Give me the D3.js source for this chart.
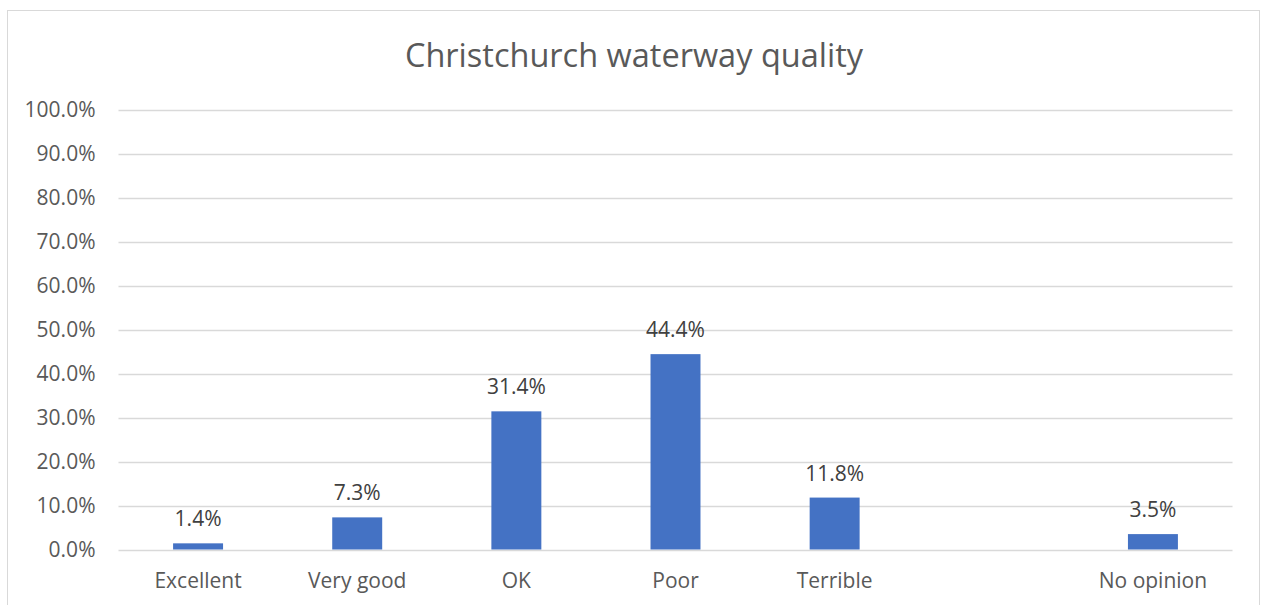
<!DOCTYPE html>
<html lang="en">
<head>
<meta charset="utf-8">
<title>Christchurch waterway quality</title>
<script src="https://cdn.jsdelivr.net/npm/d3@7"></script>
<style>
  body { margin: 0; background: #fff; }
  text { font-family: "Open Sans", sans-serif; }
</style>
</head>
<body>
<div id="chart"></div>
<script>
var categories = ["Excellent", "Very good", "OK", "Poor", "Terrible", "", "No opinion"];
var values = [1.4, 7.3, 31.4, 44.4, 11.8, null, 3.5];
var yTicks = [0, 10, 20, 30, 40, 50, 60, 70, 80, 90, 100];

var width = 1261, height = 605;
var margin = {top: 109.5, right: 28.5, bottom: 55.5, left: 118.5};

var svg = d3.select("#chart").append("svg")
    .attr("width", width)
    .attr("height", height);

// chart border
svg.append("rect")
    .attr("x", 7.5).attr("y", 10.5)
    .attr("width", 1252).attr("height", 620)
    .attr("fill", "none")
    .attr("stroke", "#d9d9d9");

svg.append("text")
    .attr("x", 634).attr("y", 67)
    .attr("text-anchor", "middle")
    .attr("fill", "#595959")
    .style("font-size", "32.5px")
    .text("Christchurch waterway quality");

var x = d3.scaleBand()
    .domain(d3.range(categories.length))
    .range([margin.left, width - margin.right])
    .paddingInner(0.686)
    .paddingOuter(0.343);

var y = d3.scaleLinear()
    .domain([0, 100])
    .range([height - margin.bottom, margin.top]);

// gridlines
svg.append("g")
  .selectAll("line")
  .data(yTicks)
  .enter().append("line")
    .attr("x1", margin.left).attr("x2", width - margin.right)
    .attr("y1", d => Math.round(y(d)) + 0.5).attr("y2", d => Math.round(y(d)) + 0.5)
    .attr("stroke", "#d9d9d9")
    .attr("stroke-width", 1.5);

var yAxis = svg.append("g")
    .attr("transform", "translate(" + margin.left + ",0)")
    .call(d3.axisLeft(y).tickValues(yTicks).tickSize(0).tickPadding(23)
      .tickFormat(d => d.toFixed(1) + "%"));
yAxis.select(".domain").remove();
yAxis.selectAll("text").attr("fill", "#595959").style("font-size", "21px");

var xAxis = svg.append("g")
    .attr("transform", "translate(0," + (height - margin.bottom) + ")")
    .call(d3.axisBottom(x).tickSize(0).tickPadding(24)
      .tickFormat(i => categories[i]));
xAxis.select(".domain").remove();
xAxis.selectAll("text").attr("fill", "#595959").style("font-size", "21px");

var data = values.map((v, i) => ({i: i, v: v})).filter(d => d.v != null);

svg.append("g")
  .selectAll("rect")
  .data(data)
  .enter().append("rect")
    .attr("x", d => x(d.i))
    .attr("width", x.bandwidth())
    .attr("y", d => y(d.v))
    .attr("height", d => y(0) - y(d.v))
    .attr("fill", "#4472c4");

svg.append("g")
  .selectAll("text")
  .data(data)
  .enter().append("text")
    .attr("x", d => x(d.i) + x.bandwidth() / 2)
    .attr("y", d => y(d.v) - 17)
    .attr("text-anchor", "middle")
    .attr("fill", "#404040")
    .style("font-size", "21px")
    .text(d => d.v.toFixed(1) + "%");
</script>
</body>
</html>
